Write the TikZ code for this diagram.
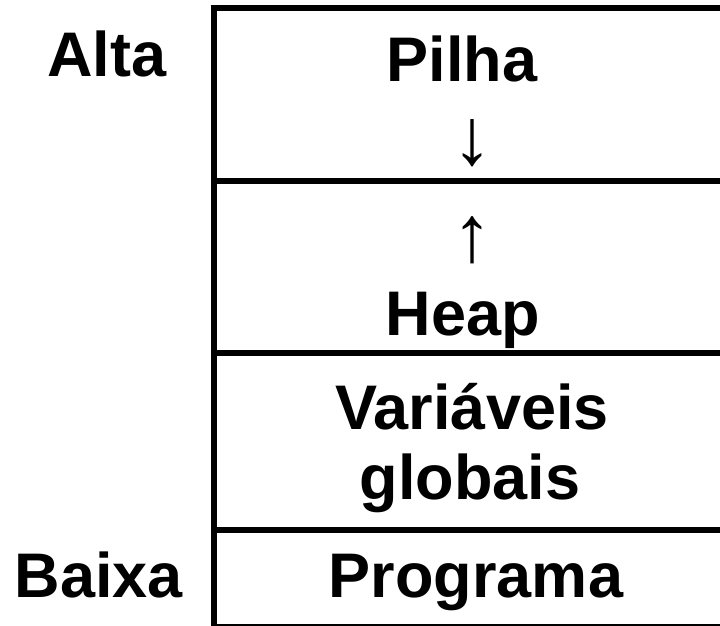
\documentclass[tikz,border=0pt]{standalone}
\usepackage{fontspec}
\setmainfont{Liberation Sans}
\begin{document}
\begin{tikzpicture}[x=1pt,y=1pt,
  lbl/.style={font=\fontsize{63}{72}\selectfont\bfseries, inner sep=0pt, anchor=base},
  arr/.style={font=\fontsize{80}{90}\selectfont\bfseries, inner sep=0pt, anchor=center},
  heavy/.style={line width=6pt},
  light/.style={line width=2pt}]
\useasboundingbox (0,0) rectangle (720,626);
% frame
\draw[heavy] (210.5,618) -- (720,618);
\draw[heavy] (213.5,621) -- (213.5,0);
\draw[heavy] (213.5,445) -- (720,445);
\draw[heavy] (213.5,273) -- (720,273);
\draw[heavy] (213.5,96) -- (720,96);
\draw[light] (213.5,1) -- (720,1);
% labels
\node[lbl] (alta) at (107,549) {Alta};
\node[lbl] (baixa) at (99,28) {Baixa};
\node[lbl] (pilha) at (462,544) {Pilha};
\node[arr] (down) at (472,482.5) {↓};
\node[arr] (up) at (472,386) {↑};
\node[lbl] (heap) at (463,290) {Heap};
\node[lbl] (var) at (472,196) {Variáveis};
\node[lbl] (glob) at (470,126) {globais};
\node[lbl] (prog) at (476,28) {Programa};
\end{tikzpicture}
\end{document}
